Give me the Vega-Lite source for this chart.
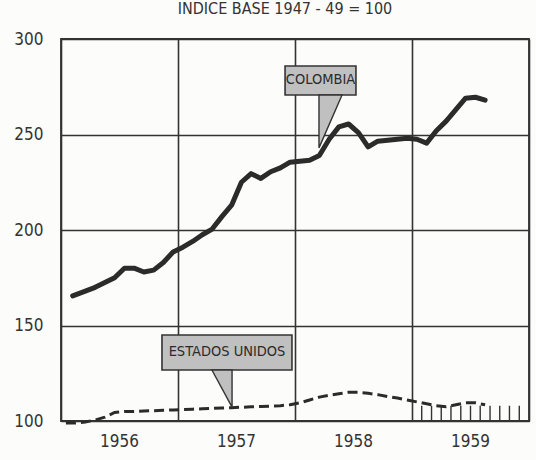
{
  "$schema": "https://vega.github.io/schema/vega-lite/v6.json",
  "autosize": "none",
  "width": 468,
  "height": 382,
  "padding": {"left": 61, "top": 39, "right": 7, "bottom": 39},
  "background": "#fcfcfa",
  "config": {
    "font": "DejaVu Sans Condensed",
    "view": {"stroke": "#333333", "strokeWidth": 1.8},
    "axis": {"labelFont": "DejaVu Sans Condensed", "labelFontSize": 17, "labelColor": "#333333", "gridColor": "#333333", "gridOpacity": 1, "gridWidth": 1.6, "ticks": false, "domain": false}
  },
  "title": {"text": "INDICE BASE 1947 - 49 = 100", "fontSize": 16, "fontWeight": "normal", "color": "#333333", "offset": 13, "dx": -10, "font": "DejaVu Sans Condensed"},
  "datasets": {
    "colombia": [
      {"t": 1956.1, "v": 165.5}, {"t": 1956.208, "v": 168}, {"t": 1956.292, "v": 170}, {"t": 1956.375, "v": 172.5},
      {"t": 1956.458, "v": 175}, {"t": 1956.542, "v": 180}, {"t": 1956.625, "v": 180}, {"t": 1956.708, "v": 178},
      {"t": 1956.792, "v": 179}, {"t": 1956.875, "v": 183}, {"t": 1956.958, "v": 188.5}, {"t": 1957.042, "v": 191},
      {"t": 1957.125, "v": 194}, {"t": 1957.208, "v": 197.5}, {"t": 1957.292, "v": 200.5}, {"t": 1957.375, "v": 207},
      {"t": 1957.458, "v": 213}, {"t": 1957.542, "v": 225}, {"t": 1957.625, "v": 229.5}, {"t": 1957.708, "v": 227},
      {"t": 1957.792, "v": 230.5}, {"t": 1957.875, "v": 232.5}, {"t": 1957.958, "v": 235.5}, {"t": 1958.042, "v": 236},
      {"t": 1958.125, "v": 236.5}, {"t": 1958.208, "v": 239}, {"t": 1958.292, "v": 247.5}, {"t": 1958.375, "v": 254},
      {"t": 1958.458, "v": 255.5}, {"t": 1958.542, "v": 251}, {"t": 1958.625, "v": 243.5}, {"t": 1958.708, "v": 246.5},
      {"t": 1958.792, "v": 247}, {"t": 1958.875, "v": 247.5}, {"t": 1958.958, "v": 248}, {"t": 1959.042, "v": 247.5},
      {"t": 1959.125, "v": 245.5}, {"t": 1959.208, "v": 252}, {"t": 1959.292, "v": 257}, {"t": 1959.375, "v": 263},
      {"t": 1959.458, "v": 269}, {"t": 1959.542, "v": 269.5}, {"t": 1959.625, "v": 268}
    ],
    "eeuu": [
      {"t": 1956.042, "v": 99}, {"t": 1956.125, "v": 99}, {"t": 1956.208, "v": 99.5}, {"t": 1956.292, "v": 100.5},
      {"t": 1956.375, "v": 102}, {"t": 1956.458, "v": 104.5}, {"t": 1956.542, "v": 105}, {"t": 1956.625, "v": 105},
      {"t": 1956.708, "v": 105.2}, {"t": 1956.792, "v": 105.4}, {"t": 1956.875, "v": 105.6}, {"t": 1956.958, "v": 105.8},
      {"t": 1957.042, "v": 106}, {"t": 1957.125, "v": 106.2}, {"t": 1957.208, "v": 106.4}, {"t": 1957.292, "v": 106.6},
      {"t": 1957.375, "v": 106.8}, {"t": 1957.458, "v": 107}, {"t": 1957.542, "v": 107.2}, {"t": 1957.625, "v": 107.4},
      {"t": 1957.708, "v": 107.6}, {"t": 1957.792, "v": 107.8}, {"t": 1957.875, "v": 108}, {"t": 1957.958, "v": 108.5},
      {"t": 1958.042, "v": 109.5}, {"t": 1958.125, "v": 111}, {"t": 1958.208, "v": 112.5}, {"t": 1958.292, "v": 113.5},
      {"t": 1958.375, "v": 114.3}, {"t": 1958.458, "v": 115}, {"t": 1958.542, "v": 115}, {"t": 1958.625, "v": 114.5},
      {"t": 1958.708, "v": 113.8}, {"t": 1958.792, "v": 112.8}, {"t": 1958.875, "v": 112}, {"t": 1958.958, "v": 111},
      {"t": 1959.042, "v": 110}, {"t": 1959.125, "v": 109}, {"t": 1959.208, "v": 108}, {"t": 1959.292, "v": 107.5},
      {"t": 1959.375, "v": 108.5}, {"t": 1959.458, "v": 109.5}, {"t": 1959.542, "v": 109.5}, {"t": 1959.625, "v": 108.5}
    ],
    "boxes": [
      {"t": 1957.915, "t2": 1958.521, "v": 285.9, "v2": 270.7},
      {"t": 1956.863, "t2": 1957.974, "v": 145.0, "v2": 126.7}
    ],
    "labels": [
      {"t": 1958.218, "v": 278.3, "label": "COLOMBIA"},
      {"t": 1957.419, "v": 135.9, "label": "ESTADOS UNIDOS"}
    ],
    "pointerCol": [
      {"t": 1958.205, "v": 270.7, "v2": 243},
      {"t": 1958.402, "v": 270.7, "v2": 270.7}
    ],
    "pointerUS": [
      {"t": 1957.29, "v": 126.7, "v2": 126.7},
      {"t": 1957.462, "v": 126.7, "v2": 107.3}
    ],
    "ticks": [
      {"t": 1959.083, "v": 100, "v2": 108}, {"t": 1959.167, "v": 100, "v2": 108}, {"t": 1959.25, "v": 100, "v2": 108},
      {"t": 1959.333, "v": 100, "v2": 108}, {"t": 1959.417, "v": 100, "v2": 108}, {"t": 1959.5, "v": 100, "v2": 108},
      {"t": 1959.583, "v": 100, "v2": 108}, {"t": 1959.667, "v": 100, "v2": 108}, {"t": 1959.75, "v": 100, "v2": 108},
      {"t": 1959.833, "v": 100, "v2": 108}, {"t": 1959.917, "v": 100, "v2": 108}
    ]
  },
  "encoding": {
    "x": {"field": "t", "type": "quantitative", "title": null, "scale": {"domain": [1956, 1960], "nice": false, "zero": false},
          "axis": {"values": [1956, 1957, 1958, 1959, 1960], "labelExpr": "datum.value < 1960 ? format(datum.value, 'd') : ''", "labelOffset": 58, "labelPadding": 12, "labelFlush": false, "grid": true}},
    "y": {"field": "v", "type": "quantitative", "title": null, "scale": {"domain": [100, 300], "nice": false, "zero": false},
          "axis": {"values": [100, 150, 200, 250, 300], "labelPadding": 18, "grid": true}}
  },
  "layer": [
    {"data": {"name": "ticks"}, "mark": {"type": "rule", "color": "#333333", "strokeWidth": 1.4},
     "encoding": {"y2": {"field": "v2"}}},
    {"data": {"name": "eeuu"}, "mark": {"type": "line", "color": "#2b2b2b", "strokeWidth": 3, "strokeDash": [10, 5], "clip": false}},
    {"data": {"name": "colombia"}, "mark": {"type": "line", "color": "#2b2b2b", "strokeWidth": 5, "strokeCap": "round", "strokeJoin": "round"}},
    {"data": {"name": "boxes"}, "mark": {"type": "rect", "fill": "#c0c0c0", "stroke": "#333333", "strokeWidth": 1.6},
     "encoding": {"x2": {"field": "t2"}, "y2": {"field": "v2"}}},
    {"data": {"name": "pointerCol"}, "mark": {"type": "area", "fill": "#c0c0c0", "stroke": "#333333", "strokeWidth": 1.4, "fillOpacity": 1},
     "encoding": {"y2": {"field": "v2"}}},
    {"data": {"name": "pointerUS"}, "mark": {"type": "area", "fill": "#c0c0c0", "stroke": "#333333", "strokeWidth": 1.4, "fillOpacity": 1},
     "encoding": {"y2": {"field": "v2"}}},
    {"data": {"name": "labels"}, "mark": {"type": "text", "fontSize": 14.5, "color": "#2b2b2b", "font": "DejaVu Sans Condensed"},
     "encoding": {"text": {"field": "label"}}}
  ]
}
